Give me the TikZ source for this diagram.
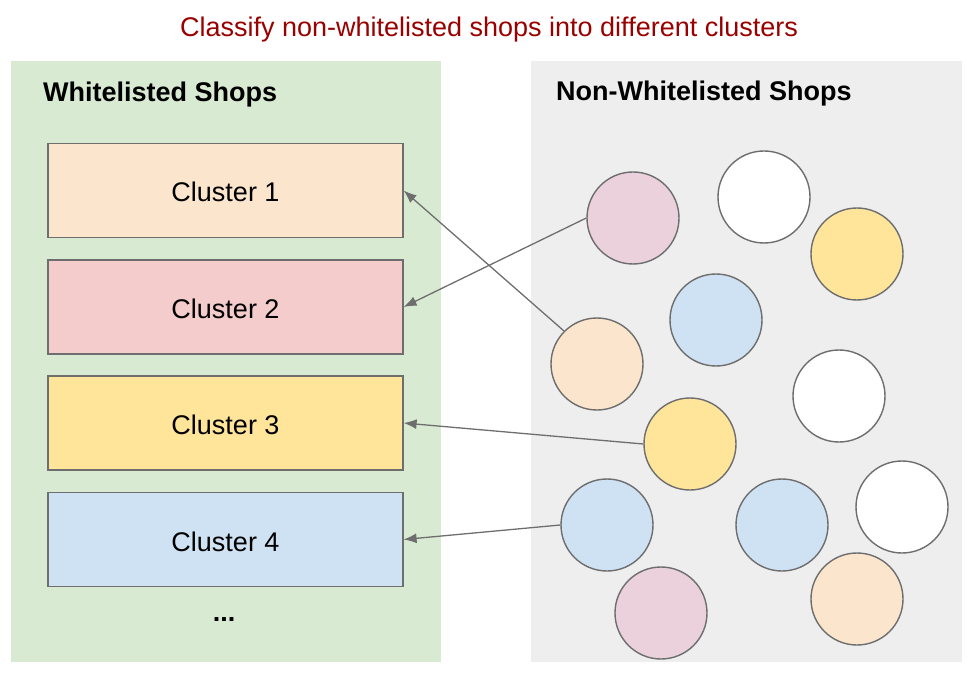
\documentclass[tikz,border=0pt]{standalone}
\usepackage{fontspec}
\setmainfont{Liberation Sans}
\usetikzlibrary{arrows.meta}
\definecolor{titlered}{HTML}{990000}
\definecolor{wlgreen}{HTML}{D9EAD3}
\definecolor{nwlgrey}{HTML}{EEEEEE}
\definecolor{cpeach}{HTML}{FCE5CD}
\definecolor{cred}{HTML}{F4CCCC}
\definecolor{cyellow}{HTML}{FFE599}
\definecolor{cblue}{HTML}{CFE2F3}
\definecolor{cpink}{HTML}{EAD1DC}
\definecolor{edgegrey}{HTML}{6E6E6E}

\begin{document}
\begin{tikzpicture}[x=1pt, y=-1pt,
    every node/.style={font=\fontsize{27}{32}\selectfont},
    cluster/.style={draw=edgegrey, line width=1.2pt, minimum width=355pt, minimum height=94pt, inner sep=0pt, text height=23pt, text depth=0pt},
    shop/.style={circle, draw=edgegrey, line width=1.4pt, minimum size=92pt, inner sep=0pt},
    link/.style={draw=edgegrey, line width=1.3pt, -{Latex[length=13pt, width=10pt]}}]
    \useasboundingbox (0,0) rectangle (977,676);
    \fill[wlgreen] (11,61) rectangle (441,662);
    \fill[nwlgrey] (531,61) rectangle (962,662);
    \node[text=titlered] (title) at (489,30) {Classify non-whitelisted shops into different clusters};
    \node[anchor=west, inner sep=0pt, font=\fontsize{27}{32}\selectfont\bfseries] (wlhead) at (43,95) {Whitelisted Shops};
    \node[anchor=west, inner sep=0pt, font=\fontsize{27}{32}\selectfont\bfseries] (nwlhead) at (556,94) {Non-Whitelisted Shops};
    \foreach \i/\y/\col in {1/190.5/cpeach, 2/307/cred, 3/423/cyellow, 4/539.5/cblue} {
    \node[cluster, fill=\col] (c\i) at (225.5,\y) {Cluster \i};
    }
    \node[font=\fontsize{27}{32}\selectfont\bfseries] (more) at (224,619) {...};
    \foreach \name/\x/\y/\col in {pinkA/633/218/cpink, whiteA/764/197/white, yellowA/857/254/cyellow,
        blueA/716/320/cblue, peachA/597/364/cpeach, whiteB/839/396/white, yellowB/690/444/cyellow,
        whiteC/902/507/white, blueB/607/525/cblue, blueC/782/525/cblue, pinkB/661/613/cpink, peachB/857/599/cpeach} {
    \node[shop, fill=\col] (\name) at (\x,\y) {};
    }
    \draw[link] (peachA.north west) -- (c1.east);
    \draw[link] (pinkA.west) -- (c2.east);
    \draw[link] (yellowB.west) -- (c3.east);
    \draw[link] (blueB.west) -- (c4.east);
\end{tikzpicture}
\end{document}
